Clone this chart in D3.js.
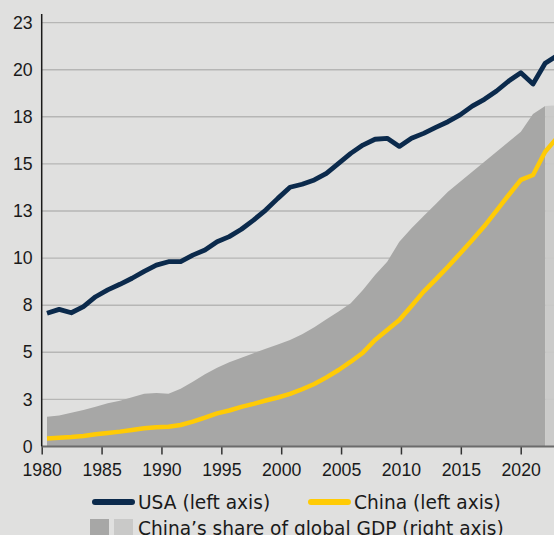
<!DOCTYPE html>
<html>
<head>
<meta charset="utf-8">
<script src="https://cdn.jsdelivr.net/npm/d3@7"></script>
<style>
  body { margin: 0; background: #e0e0df; }
  svg { display: block; font-family: "DejaVu Sans", sans-serif; }
</style>
</head>
<body>
<div id="chart"></div>
<script>
const years = d3.range(1980, 2023);

// left axis, values
const usa = [7.07, 7.28, 7.10, 7.42, 7.95, 8.31, 8.61, 8.93, 9.30, 9.63,
  9.81, 9.81, 10.16, 10.43, 10.87, 11.14, 11.53, 12.02, 12.55, 13.17,
  13.76, 13.92, 14.15, 14.50, 15.03, 15.56, 16.00, 16.31, 16.36, 15.93,
  16.36, 16.62, 16.94, 17.24, 17.60, 18.07, 18.43, 18.87, 19.40, 19.84,
  19.24, 20.34, 20.75];

const china = [0.43, 0.47, 0.50, 0.56, 0.65, 0.72, 0.79, 0.88, 0.97, 1.02,
  1.05, 1.14, 1.32, 1.53, 1.76, 1.91, 2.10, 2.26, 2.44, 2.60,
  2.79, 3.04, 3.32, 3.67, 4.06, 4.50, 4.98, 5.65, 6.18, 6.71,
  7.46, 8.22, 8.87, 9.54, 10.25, 10.96, 11.70, 12.52, 13.35, 14.15,
  14.41, 15.65, 16.40];

// right axis (% of global GDP), last year is the lighter band
const chinaShare = [1.58, 1.64, 1.79, 1.94, 2.11, 2.29, 2.43, 2.61, 2.80, 2.84,
  2.80, 3.07, 3.44, 3.83, 4.18, 4.47, 4.71, 4.95, 5.19, 5.42,
  5.65, 5.96, 6.33, 6.75, 7.16, 7.60, 8.31, 9.10, 9.81, 10.87,
  11.58, 12.23, 12.87, 13.52, 14.05, 14.59, 15.12, 15.65, 16.18, 16.71,
  17.65, 18.07, 18.12];
const lastActualYear = 2021;

const xTickValues = d3.range(1980, 2021, 5);
const yTickValues = [0, 2.5, 5, 7.5, 10, 12.5, 15, 17.5, 20, 22.5];
const yTickLabels = ["0", "3", "5", "8", "10", "13", "15", "18", "20", "23"];

const legendItems = [
  { label: "USA (left axis)", color: "#0b2a4c" },
  { label: "China (left axis)", color: "#ffcb05" },
];
const shareLabel = "China\u2019s share of global GDP (right axis)";

const width = 554;
const height = 535;

const data = years.map((year, i) => ({
  year: year,
  usa: usa[i],
  china: china[i],
  share: chinaShare[i],
}));

const svg = d3
  .select("#chart")
  .append("svg")
  .attr("width", width)
  .attr("height", height);

svg.append("rect").attr("width", width).attr("height", height).attr("fill", "#e0e0df");

// axis ticks and data points sit on slightly different grids in the original
const x = d3.scaleLinear().domain([1980, 2020]).range([41.7, 520.7]);
const xData = d3.scaleLinear().domain([1980, 2022]).range([47, 557.3]);
const y = d3.scaleLinear().domain([0, 23]).range([446.5, 13.2]);
const yRight = d3.scaleLinear().domain([0, 23]).range([446.5, 13.2]);

// gridlines
svg
  .append("g")
  .selectAll("line")
  .data(yTickValues.filter((d) => d > 0))
  .join("line")
  .attr("x1", 41.7)
  .attr("x2", width)
  .attr("y1", (d) => y(d))
  .attr("y2", (d) => y(d))
  .attr("stroke", "#b6b6b5")
  .attr("stroke-width", 1.4);

const shareArea = d3
  .area()
  .x((d) => xData(d.year))
  .y0(yRight(0))
  .y1((d) => yRight(d.share));

svg
  .append("path")
  .datum(data.filter((d) => d.year <= lastActualYear))
  .attr("fill", "#a7a7a6")
  .attr("d", shareArea);

svg
  .append("path")
  .datum(data.filter((d) => d.year >= lastActualYear))
  .attr("fill", "#c9c9c8")
  .attr("opacity", 0.93)
  .attr("d", shareArea);

const usaLine = d3
  .line()
  .x((d) => xData(d.year))
  .y((d) => y(d.usa));

const chinaLine = d3
  .line()
  .x((d) => xData(d.year))
  .y((d) => y(d.china));

svg
  .append("path")
  .datum(data)
  .attr("fill", "none")
  .attr("stroke", legendItems[1].color)
  .attr("stroke-width", 4.5)
  .attr("stroke-linejoin", "round")
  .attr("d", chinaLine);

svg
  .append("path")
  .datum(data)
  .attr("fill", "none")
  .attr("stroke", legendItems[0].color)
  .attr("stroke-width", 4.8)
  .attr("stroke-linejoin", "round")
  .attr("d", usaLine);

// x axis
const xAxis = svg
  .append("g")
  .attr("transform", "translate(0," + y(0) + ")")
  .call(
    d3.axisBottom(x).tickValues(xTickValues).tickFormat(d3.format("d")).tickSize(8).tickSizeOuter(0)
  );
xAxis.select(".domain").remove();
xAxis
  .append("line")
  .attr("x1", 41.7)
  .attr("x2", width)
  .attr("stroke", "#6b6b6b")
  .attr("stroke-width", 2);
xAxis.selectAll(".tick line").attr("stroke", "#333").attr("stroke-width", 1.5);
xAxis
  .selectAll(".tick text")
  .attr("y", 17)
  .attr("fill", "#1a1a1a")
  .attr("font-size", 17.7);

// y axis
const yAxis = svg
  .append("g")
  .attr("transform", "translate(41.7,0)")
  .call(
    d3.axisLeft(y).tickValues(yTickValues).tickFormat((d, i) => yTickLabels[i]).tickSize(0).tickPadding(9)
  );
yAxis.select(".domain").remove();
yAxis
  .append("line")
  .attr("y1", 14)
  .attr("y2", y(0))
  .attr("stroke", "#1a1a1a")
  .attr("stroke-width", 1.5);
yAxis
  .selectAll(".tick text")
  .attr("fill", "#1a1a1a")
  .attr("font-size", 17.7);

// legend
const legend = svg.append("g").attr("font-size", 18.6).attr("fill", "#1a1a1a");

const legendX = [95, 311];
legendItems.forEach((item, i) => {
  legend
    .append("line")
    .attr("x1", legendX[i])
    .attr("x2", legendX[i] + 37)
    .attr("y1", 502)
    .attr("y2", 502)
    .attr("stroke", item.color)
    .attr("stroke-width", 6)
    .attr("stroke-linecap", "round");
  legend
    .append("text")
    .attr("x", legendX[i] + 43)
    .attr("y", 502)
    .attr("dy", "0.35em")
    .text(item.label);
});

legend
  .append("rect")
  .attr("x", 90)
  .attr("y", 519)
  .attr("width", 19)
  .attr("height", 19)
  .attr("fill", "#a7a7a6");
legend
  .append("rect")
  .attr("x", 114)
  .attr("y", 519)
  .attr("width", 19)
  .attr("height", 19)
  .attr("fill", "#c9c9c8");
legend
  .append("text")
  .attr("x", 138)
  .attr("y", 528.5)
  .attr("dy", "0.35em")
  .text(shareLabel);
</script>
</body>
</html>
